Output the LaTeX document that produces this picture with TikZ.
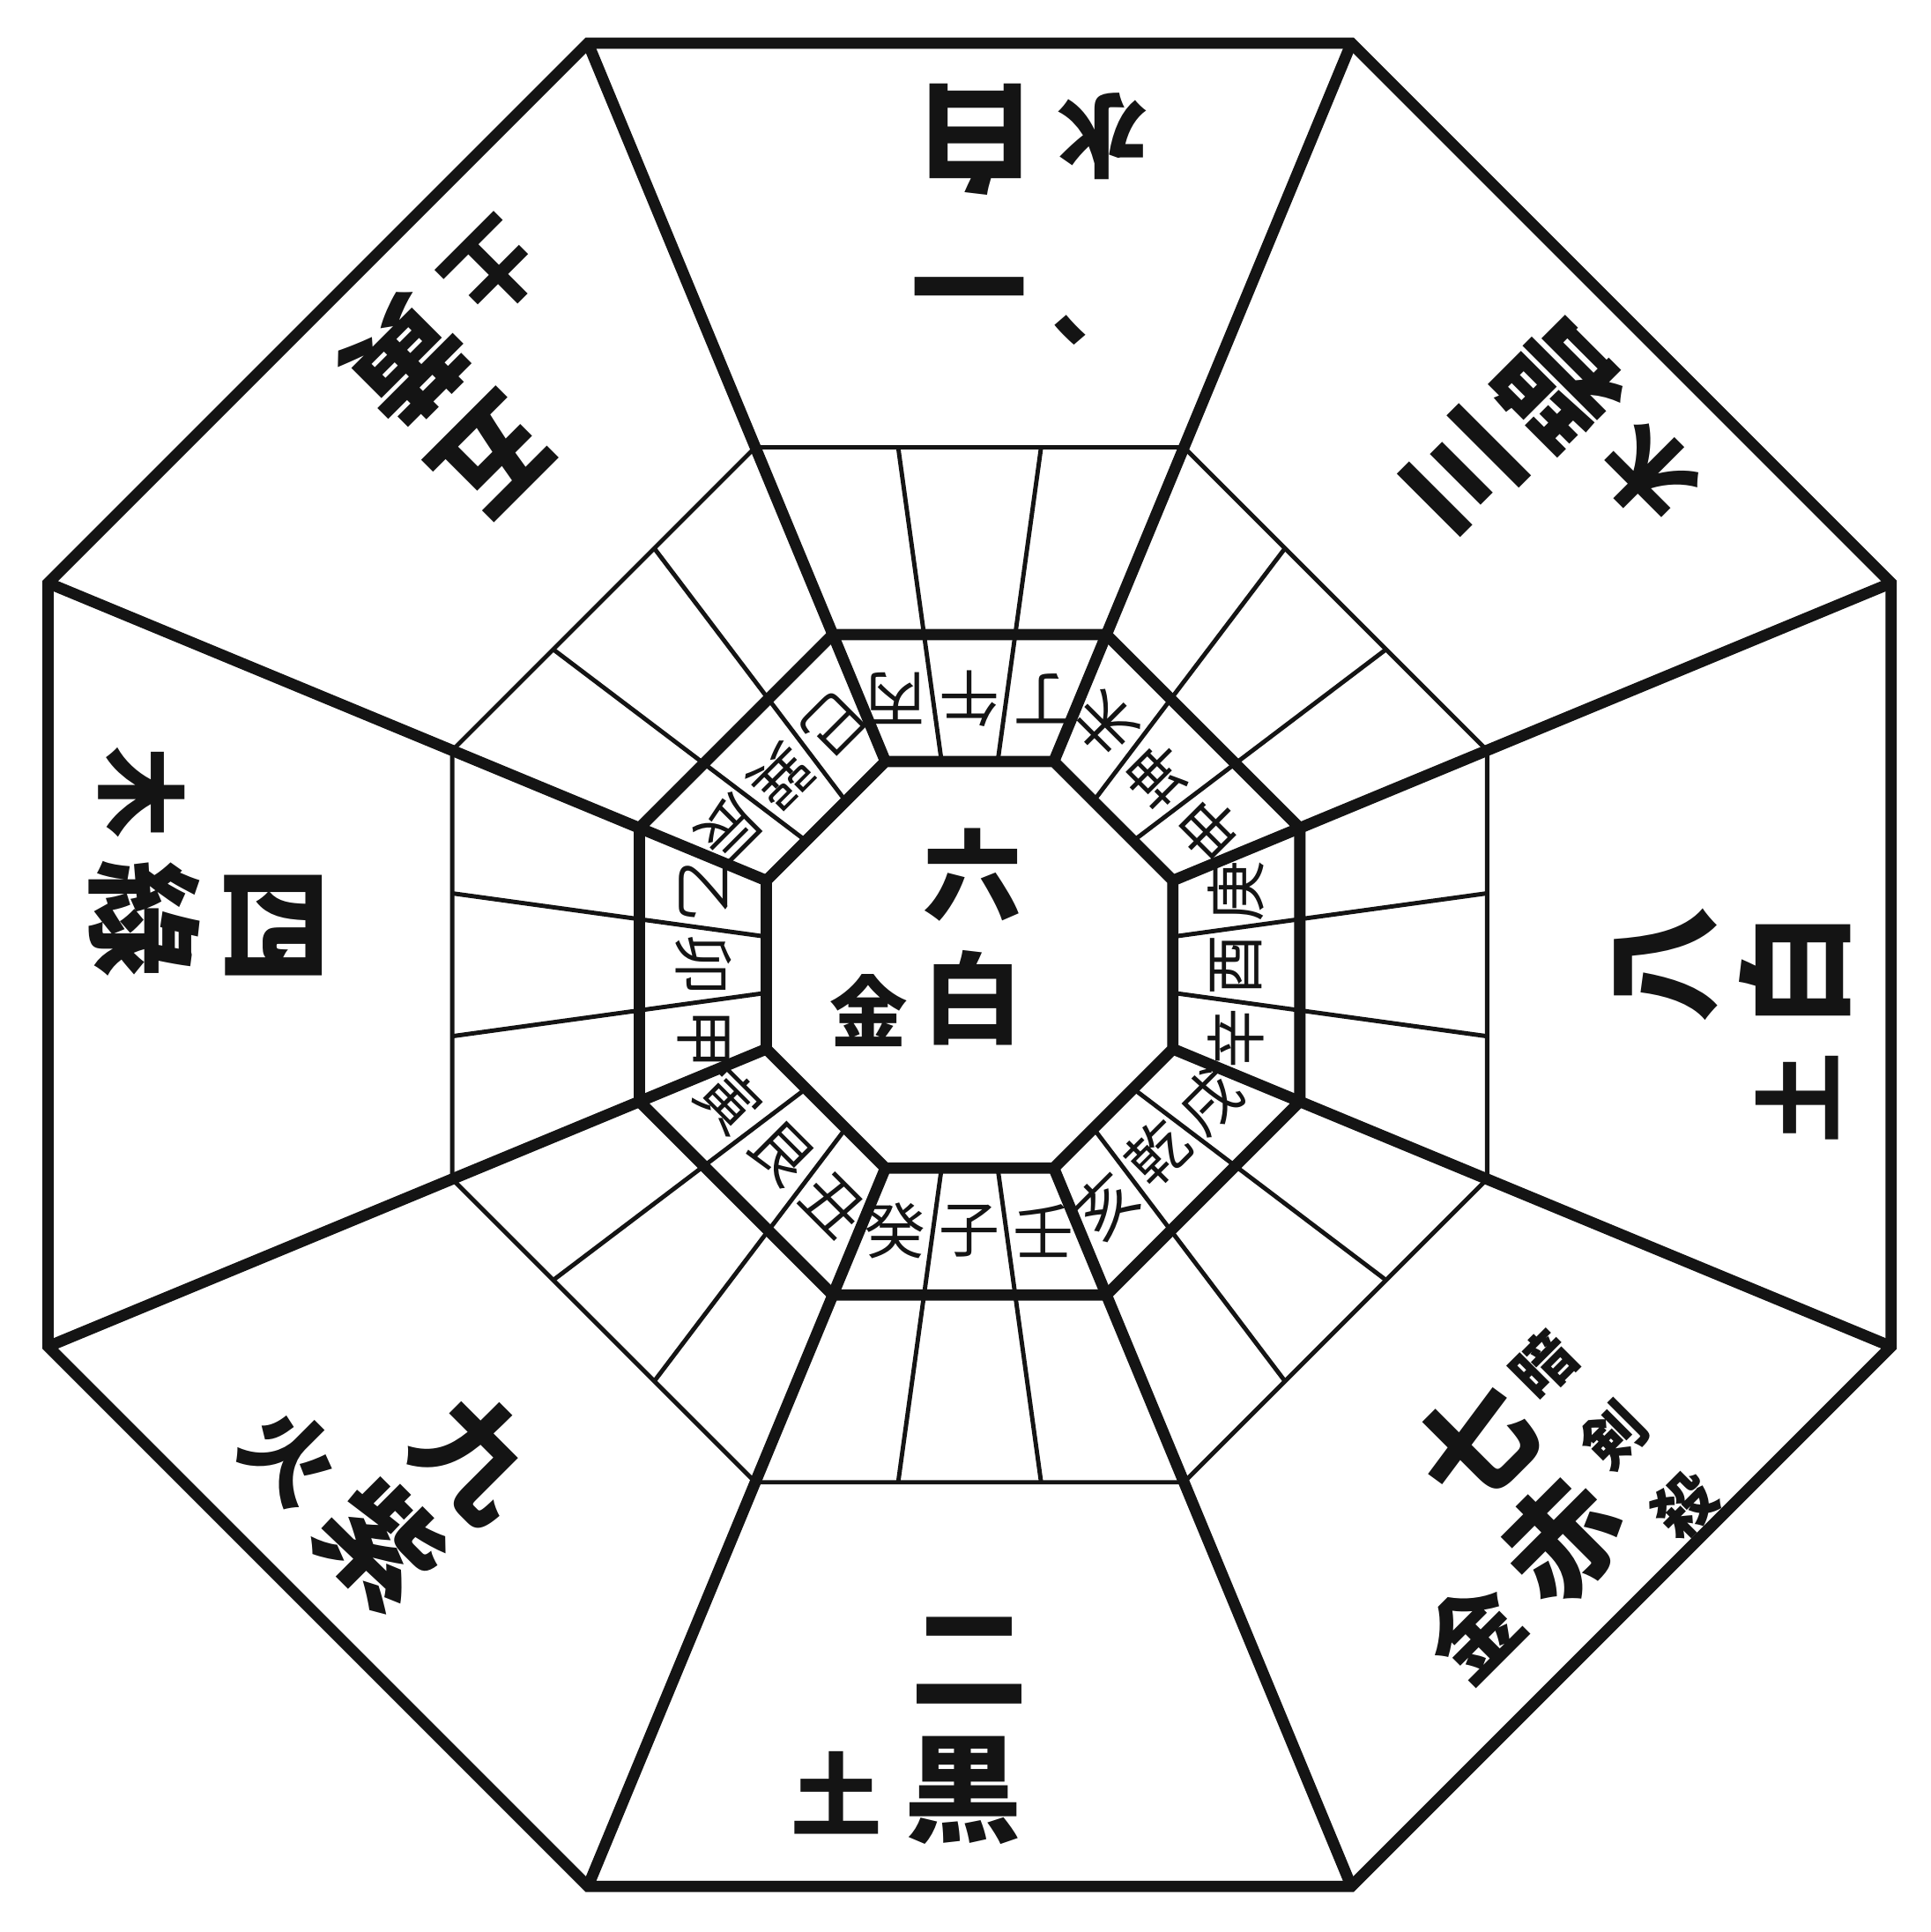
\documentclass[tikz,border=0pt]{standalone}
\usepackage{fontspec}
\newfontfamily\cjk{Noto Sans CJK JP}
\usepackage{tikz}
\usetikzlibrary{calc}
\definecolor{ink}{HTML}{141414}
\definecolor{paper}{HTML}{FFFFFF}
\tikzset{
  heavy/.style={draw=ink, line width=2.6pt, line join=miter},
  fine/.style={draw=ink, line width=1pt},
  star/.style={font=\cjk\bfseries\fontsize{27}{27}\selectfont, text=ink, inner sep=0pt},
  elem/.style={font=\cjk\bfseries\fontsize{21}{21}\selectfont, text=ink, inner sep=0pt},
  mount/.style={font=\cjk\fontsize{14}{14}\selectfont, text=ink, inner sep=0pt},
  warn/.style={font=\cjk\bfseries\fontsize{14}{23}\selectfont, text=ink, inner sep=0pt, align=center},
}

\begin{document}
\begin{tikzpicture}[x=0.01cm,y=0.01cm]
  \fill[paper] (0,0) rectangle (1567,1568);
  \useasboundingbox (0,0) rectangle (1567,1568);

  \begin{scope}[shift={(787,785)}]
  % corners of the four octagons
  \foreach \k in {0,...,7} {
    \pgfmathsetmacro{\ang}{22.5+45*\k}
    \coordinate (o\k) at (\ang:809.6);
    \coordinate (b\k) at (\ang:454.6);
    \coordinate (r\k) at (\ang:290.1);
    \coordinate (h\k) at (\ang:178.6);
  }

  % thin dividers, three cells per side
  \foreach \k in {0,...,7} {
    \pgfmathtruncatemacro{\kk}{mod(\k+1,8)}
    \foreach \t in {0.3333,0.6667} {
      \draw[fine] ($(b\k)!\t!(b\kk)$) -- ($(h\k)!\t!(h\kk)$);
    }
  }
  \draw[fine] (b0) \foreach \k in {1,...,7} {-- (b\k)} -- cycle;

  % heavy frame
  \draw[heavy] (o0) \foreach \k in {1,...,7} {-- (o\k)} -- cycle;
  \draw[heavy] (r0) \foreach \k in {1,...,7} {-- (r\k)} -- cycle;
  \draw[heavy] (h0) \foreach \k in {1,...,7} {-- (h\k)} -- cycle;
  \foreach \k in {0,...,7} {
    \draw[heavy] (h\k) -- (o\k);
  }

  % the eight outer stars
  \foreach \dir/\sh/\num/\col/\el in {
    90/0/一/白/水, 45/0/三/碧/木, 0/0/八/白/土, 315/15/七/赤/金,
    270/0/二/黒/土, 225/0/九/紫/火, 180/-32/四/綠/木, 135/-18/五/黄/土} {
    \node[star, rotate=\dir+90] (num-\dir) at ($(\dir:565)+(\dir+90:\sh)$) {\num};
    \node[star, rotate=\dir+90] (col-\dir) at ($(\dir:670)+(\dir+90:\sh-5)$) {\col};
    \node[elem, rotate=\dir+90] (el-\dir) at ($(\dir:672)+(\dir+90:\sh-108)$) {\el};
  }
  \node[warn, rotate=45] (warn-315) at ($(315:640)+(45:100)$) {暗\\剣\\殺};
  \node[elem, rotate=180] (tick-90) at (60,515) {、};

  % twenty-four mountains
  \foreach \dir/\ca/\cb/\cc in {
    270/壬/子/癸, 225/丑/艮/寅, 180/甲/卯/乙, 135/辰/巽/巳,
    90/丙/午/丁, 45/未/坤/申, 0/庚/酉/辛, 315/戌/乾/亥} {
    \node[mount, rotate=\dir+90] (ma-\dir) at ($(\dir:216)+(\dir+90:60)$) {\ca};
    \node[mount, rotate=\dir+90] (mb-\dir) at (\dir:216) {\cb};
    \node[mount, rotate=\dir+90] (mc-\dir) at ($(\dir:216)+(\dir-90:60)$) {\cc};
  }

  % centre
  \node[font=\cjk\bfseries\fontsize{23}{23}\selectfont, text=ink, inner sep=0pt] (num-c) at (3,73) {六};
  \node[font=\cjk\bfseries\fontsize{23}{23}\selectfont, text=ink, inner sep=0pt] (col-c) at (3,-27) {白};
  \node[font=\cjk\bfseries\fontsize{18}{18}\selectfont, text=ink, inner sep=0pt] (el-c) at (-82,-37) {金};
  \end{scope}
\end{tikzpicture}
\end{document}
